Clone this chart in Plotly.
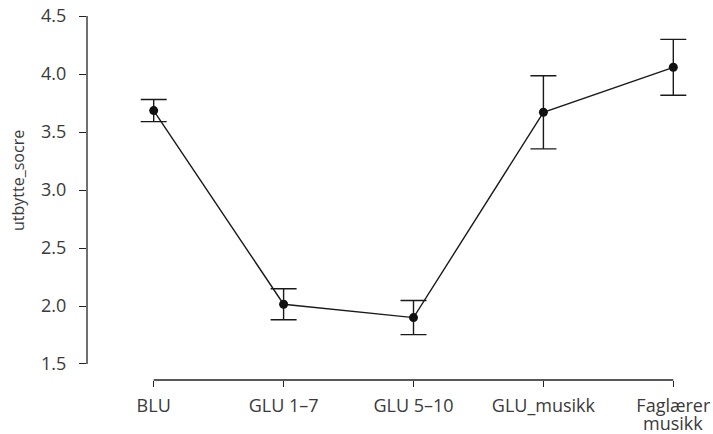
import plotly.graph_objects as go

categories = ["BLU", "GLU 1–7", "GLU 5–10", "GLU_musikk", "Faglærer\nmusikk"]
means = [3.685, 2.015, 1.90, 3.67, 4.058]
errors = [0.095, 0.134, 0.147, 0.315, 0.241]
y_ticks = [1.5, 2.0, 2.5, 3.0, 3.5, 4.0, 4.5]
y_title = "utbytte_socre"

FONT = "Open Sans"
TXT = "#3a3a3a"

idx = list(range(len(categories)))
first_lines = [c.split("\n")[0] for c in categories]

fig = go.Figure()
fig.add_trace(go.Scatter(
    x=idx, y=means, mode="lines+markers",
    line=dict(color="#1a1a1a", width=1.4),
    marker=dict(color="#111111", size=9),
    error_y=dict(type="data", array=errors, visible=True,
                 color="#1a1a1a", thickness=1.4, width=13),
    showlegend=False, cliponaxis=False,
))

# offset axis lines (despined style)
fig.add_shape(type="line", xref="x", yref="paper", x0=0, x1=len(categories) - 1,
              y0=0, y1=0, line=dict(color="#222222", width=1.3))
fig.add_shape(type="line", xref="paper", yref="y", x0=0, x1=0,
              y0=y_ticks[0], y1=y_ticks[-1], line=dict(color="#222222", width=1.3))

# extra lines of multi-line category labels
for i, c in enumerate(categories):
    rest = c.split("\n")[1:]
    if rest:
        fig.add_annotation(x=i, xref="x", y=0, yref="paper", yshift=-57,
                           text="<br>".join(rest), showarrow=False,
                           xanchor="center", yanchor="bottom",
                           font=dict(family=FONT, size=18, color=TXT))

fig.add_annotation(x=0, xref="paper", xshift=-69, y=(380 - 181) / 370, yref="paper",
                   text=y_title, textangle=-90, showarrow=False,
                   xanchor="center", yanchor="middle",
                   font=dict(family=FONT, size=16, color=TXT))

fig.update_xaxes(
    range=[-0.5135, 4.2055], tickvals=idx, ticktext=first_lines,
    showgrid=False, zeroline=False, showline=False, automargin=False,
    ticks="outside", ticklen=6, tickwidth=1.3, tickcolor="#222222",
    ticklabelstandoff=3,
    tickfont=dict(family=FONT, size=18, color=TXT),
)
fig.update_yaxes(
    range=[1.362, 4.552], tickvals=y_ticks, ticktext=[f"{v:.1f}" for v in y_ticks],
    showgrid=False, zeroline=False, showline=False, automargin=False,
    ticks="outside", ticklen=7, tickwidth=1.3, tickcolor="#222222",
    ticklabelstandoff=9,
    tickfont=dict(family=FONT, size=18, color=TXT),
)
fig.update_layout(
    width=713, height=434,
    margin=dict(l=87, r=13, t=10, b=54),
    plot_bgcolor="white", paper_bgcolor="white",
)
fig.write_html("out.html")
